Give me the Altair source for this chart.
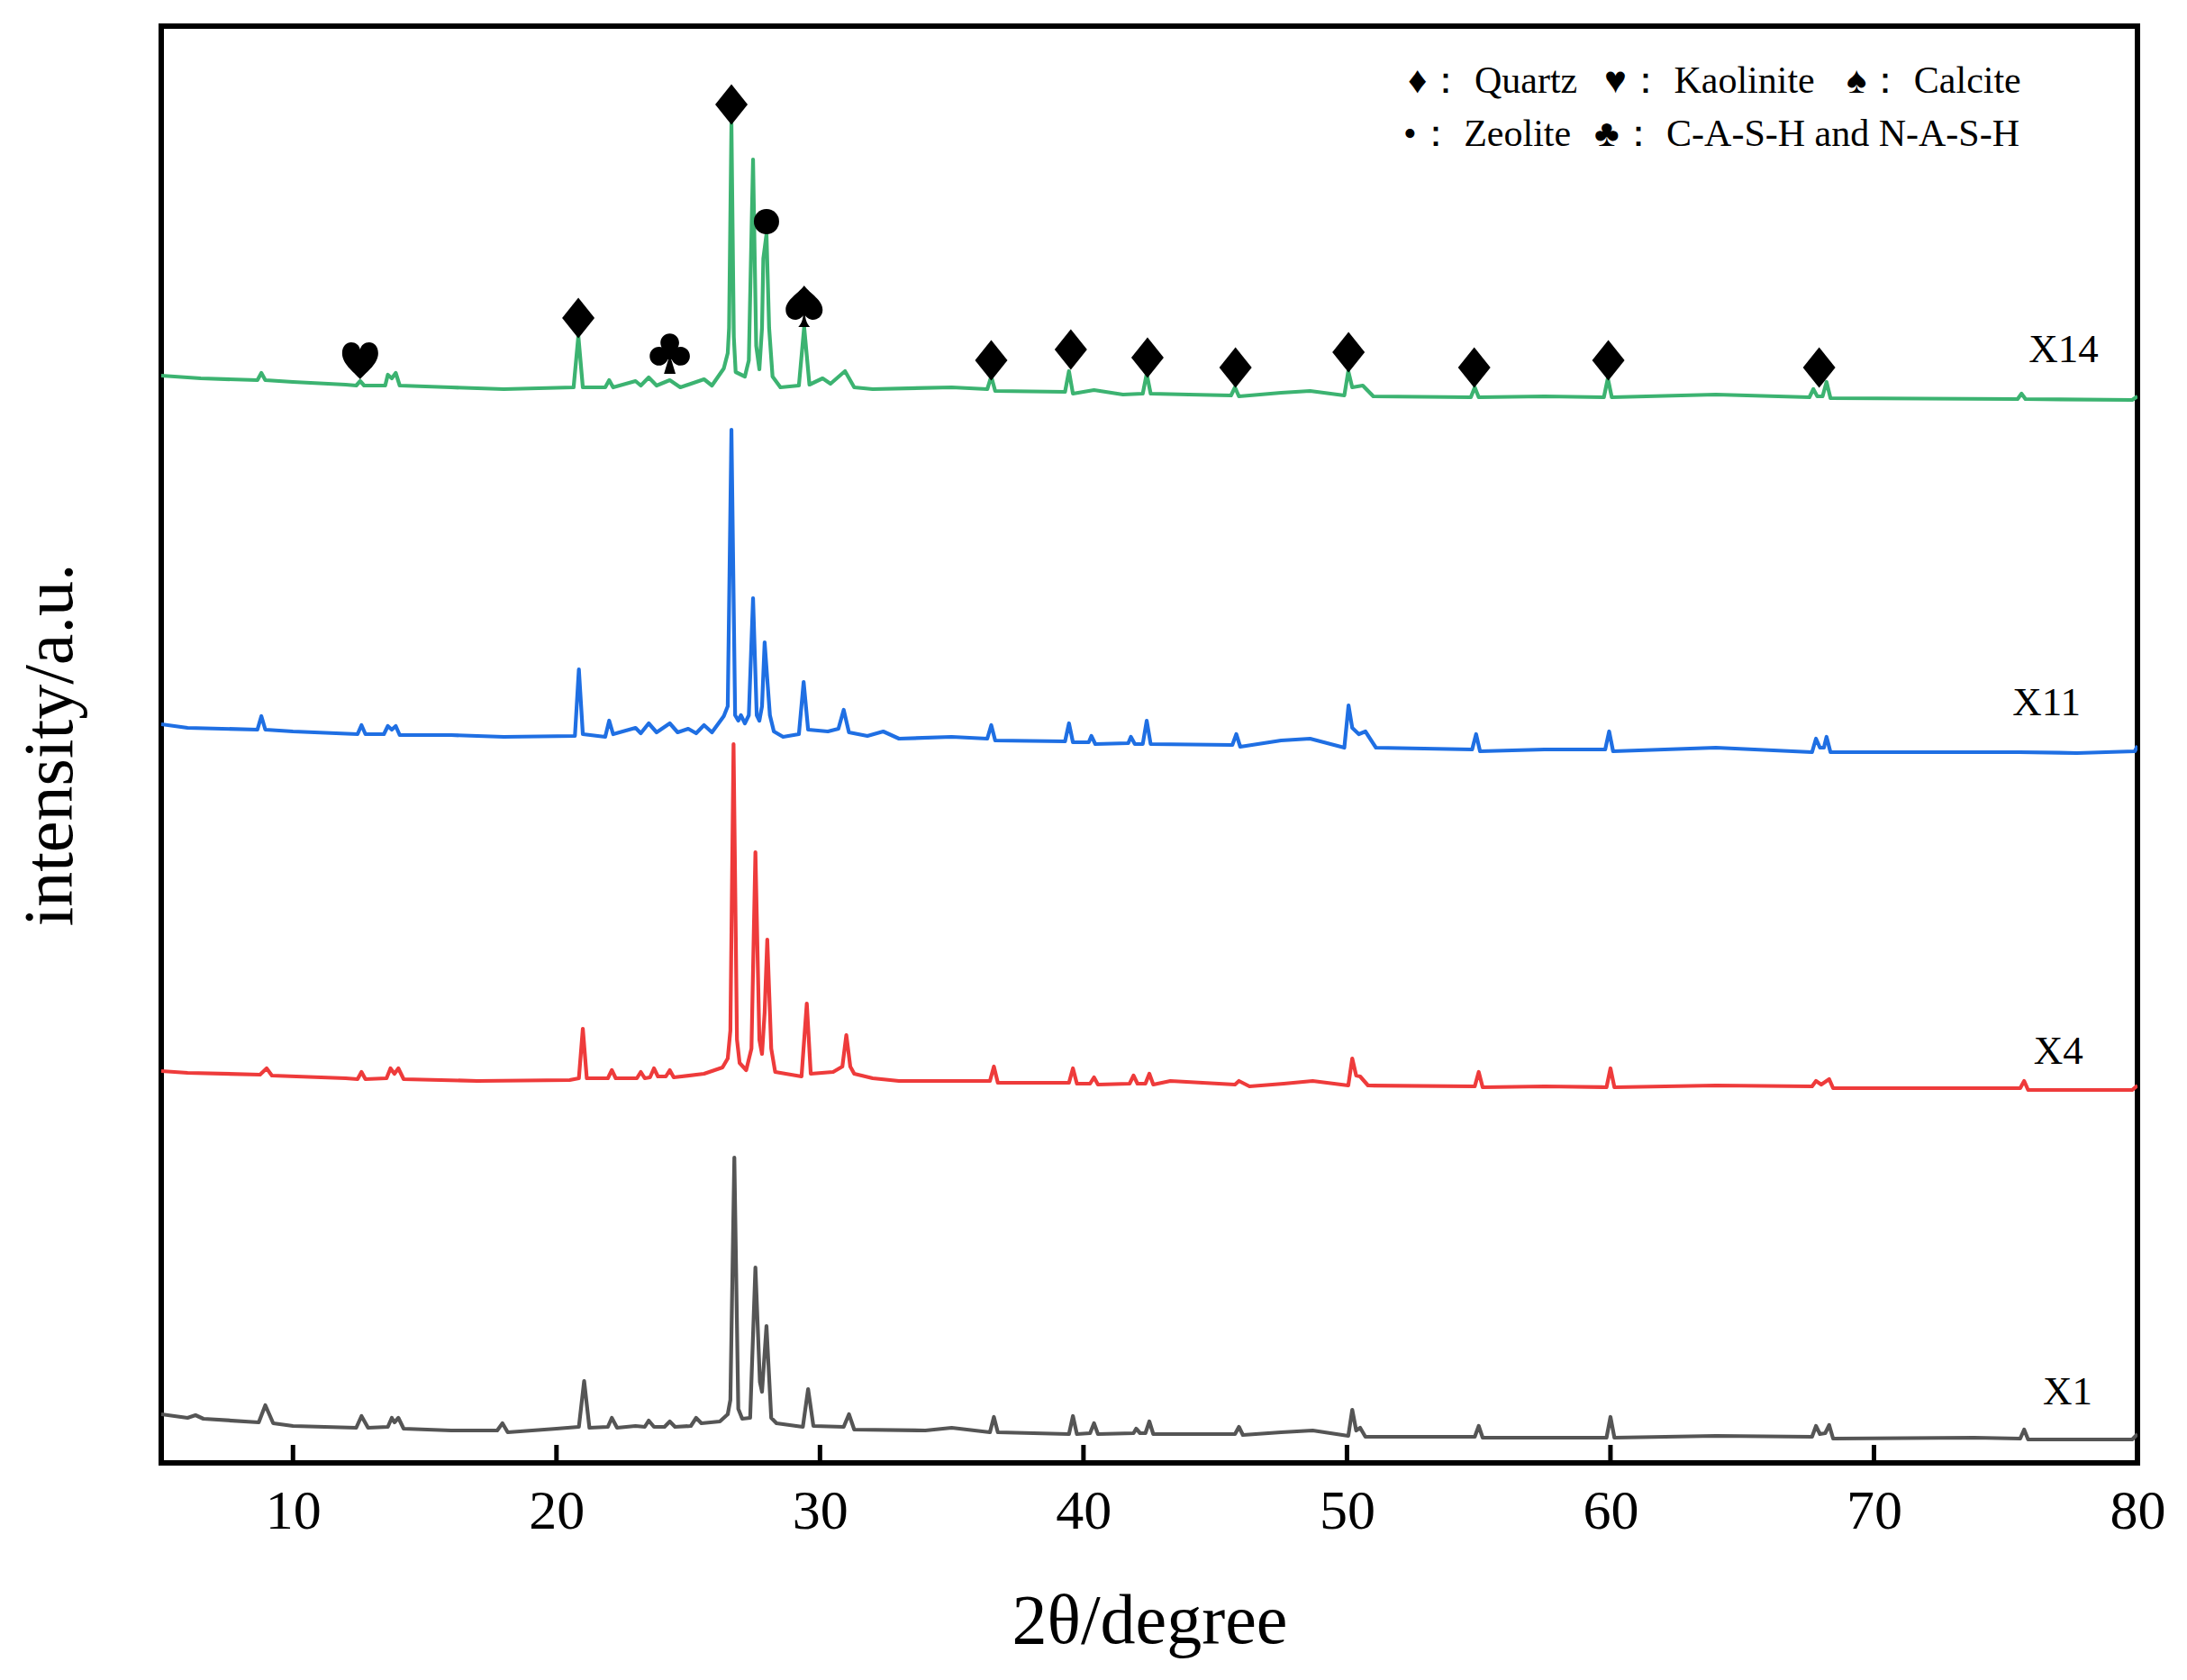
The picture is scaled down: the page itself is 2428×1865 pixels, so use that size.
import altair as alt
import pandas as pd

# ---------------- data ----------------
x1_2theta = [5.0, 6.0, 6.3, 6.6, 8.7, 8.95, 9.25, 10, 12.4, 12.6, 12.85, 13.6, 13.75, 13.85, 14.0, 14.2, 16, 17.75,
             17.95, 18.15, 20, 20.85, 21.05, 21.25, 21.95, 22.1, 22.3, 23.0, 23.35, 23.5, 23.7, 24.1, 24.3, 24.5,
             25.1, 25.3, 25.5, 26.2, 26.5, 26.6, 26.75, 26.9, 27.05, 27.35, 27.55, 27.72, 27.8, 27.97, 28.15, 28.35,
             29.35, 29.55, 29.75, 30.9, 31.1, 31.3, 34, 35, 36.45, 36.6, 36.75, 39.45, 39.6, 39.75, 40.25, 40.4,
             40.55, 41.9, 42.0, 42.15, 42.35, 42.5, 42.65, 45.75, 45.9, 46.05, 47.5, 48.7, 50.05, 50.2, 50.35, 50.5,
             50.7, 54.85, 55.0, 55.15, 59.85, 60.0, 60.15, 64, 67.65, 67.8, 67.95, 68.15, 68.3, 68.45, 73.8, 75.55,
             75.7, 75.85, 79.8, 80]
x1_int = [54, 50, 53, 49, 45, 64, 44, 41, 39, 52, 39, 40, 50, 45, 50, 38, 36, 36,
          44, 34, 38, 40, 91, 39, 40, 50, 39, 41, 40, 47, 40, 40, 46, 40,
          41, 50, 44, 46, 54, 70, 339, 60, 49, 50, 217, 90, 79, 152, 50, 44,
          40, 82, 41, 40, 54, 37, 36, 39, 34, 51, 34, 32, 52, 32, 33, 44,
          32, 33, 38, 33, 33, 46, 32, 32, 40, 31, 34, 36, 30, 59, 36, 39,
          29, 29, 41, 28, 28, 51, 28, 30, 29, 41, 32, 33, 42, 27, 28, 27,
          37, 26, 26, 32]

x4_2theta = [5.0, 6.0, 8.75, 9.0, 9.2, 12.0, 12.45, 12.6, 12.75, 13.55, 13.7, 13.85, 14.0, 14.2, 17, 20.5, 20.85,
             21.0, 21.15, 21.95, 22.1, 22.25, 23.05, 23.2, 23.35, 23.55, 23.7, 23.85, 24.15, 24.3, 24.45, 25.6,
             26.3, 26.5, 26.6, 26.72, 26.85, 26.95, 27.2, 27.4, 27.55, 27.7, 27.8, 27.9, 28.0, 28.15, 28.3, 29.3,
             29.5, 29.65, 30.5, 30.85, 31.0, 31.15, 31.3, 32, 33, 36.45, 36.6, 36.75, 39.45, 39.6, 39.75, 40.25,
             40.4, 40.55, 41.75, 41.9, 42.05, 42.35, 42.5, 42.65, 43.3, 45.75, 45.9, 46.3, 47.6, 48.7, 50.05, 50.2,
             50.35, 50.5, 50.8, 54.85, 55.0, 55.15, 57.5, 59.85, 60.0, 60.15, 64, 67.65, 67.8, 68.0, 68.3, 68.45,
             75.55, 75.7, 75.85, 79.8, 80]
x4_int = [435, 433, 431, 438, 430, 427, 426, 434, 426, 427, 438, 432, 438, 426, 424, 425, 427,
          482, 427, 427, 436, 427, 427, 434, 427, 428, 438, 429, 429, 436, 428, 432,
          439, 449, 480, 798, 470, 444, 436, 460, 678, 470, 454, 500, 581, 460, 434, 429,
          510, 432, 434, 440, 475, 440, 432, 427, 424, 424, 440, 422, 422, 438, 421, 421,
          428, 420, 421, 430, 421, 421, 432, 420, 424, 420, 424, 418, 421, 424, 419, 449,
          430, 429, 419, 418, 434, 417, 418, 417, 438, 417, 419, 418, 424, 420, 426, 416,
          416, 424, 414, 414, 419]

x11_2theta = [5.0, 6.0, 8.65, 8.8, 8.95, 10, 12.45, 12.6, 12.75, 13.45, 13.6, 13.75, 13.9, 14.05, 16, 18, 20.7,
              20.85, 21.0, 21.85, 22.0, 22.15, 23.0, 23.2, 23.5, 23.8, 24.3, 24.6, 25.0, 25.3, 25.6, 25.9, 26.35,
              26.5, 26.64, 26.78, 26.9, 27.0, 27.15, 27.3, 27.46, 27.6, 27.7, 27.8, 27.9, 28.0, 28.1, 28.25, 28.6,
              29.2, 29.38, 29.55, 30.3, 30.7, 30.9, 31.1, 31.8, 32.4, 33, 35, 36.35, 36.5, 36.65, 39.3, 39.45,
              39.6, 40.2, 40.3, 40.45, 41.7, 41.8, 41.95, 42.25, 42.4, 42.55, 45.65, 45.8, 45.95, 47.5, 48.6, 49.9,
              50.06, 50.2, 50.45, 50.7, 51.1, 54.75, 54.9, 55.05, 57.5, 59.8, 59.95, 60.1, 64, 67.65, 67.8, 67.95,
              68.1, 68.2, 68.35, 75.5, 77.7, 79.9, 80]
x11_int = [820, 816, 814, 829, 814, 812, 809, 819, 809, 809, 818, 814, 818, 808, 808, 806, 807,
           881, 809, 806, 824, 809, 816, 810, 821, 811, 821, 811, 815, 810, 819, 811, 829,
           840, 1147, 830, 824, 830, 821, 830, 960, 830, 824, 840, 911, 870, 830, 812, 806,
           809, 867, 814, 812, 815, 836, 811, 807, 812, 804, 806, 804, 819, 802, 801, 821,
           800, 800, 807, 798, 799, 806, 798, 798, 824, 798, 797, 809, 795, 802, 804, 794,
           841, 816, 809, 812, 794, 792, 809, 790, 792, 792, 812, 790, 794, 789, 804, 794,
           794, 806, 789, 789, 788, 790, 796]

x14_2theta = [5.0, 6.5, 8.65, 8.8, 8.95, 10, 12.0, 12.4, 12.55, 12.7, 13.5, 13.6, 13.75, 13.9, 14.05, 16, 18, 20.65,
              20.83, 21.0, 21.85, 22.0, 22.15, 23.0, 23.2, 23.5, 23.8, 24.3, 24.7, 25.6, 25.9, 26.35, 26.5, 26.55,
              26.64, 26.73, 26.8, 27.15, 27.3, 27.46, 27.58, 27.7, 27.8, 27.85, 27.97, 28.07, 28.2, 28.5, 29.2,
              29.4, 29.6, 30.1, 30.4, 30.95, 31.3, 32, 35, 36.35, 36.5, 36.65, 39.3, 39.45, 39.6, 40.4, 41.5,
              42.25, 42.4, 42.55, 44, 45.6, 45.75, 45.9, 47.5, 48.6, 49.9, 50.05, 50.2, 50.6, 51, 54.7, 54.85,
              55.0, 57.5, 59.75, 59.9, 60.05, 64, 67.55, 67.7, 67.85, 68.05, 68.2, 68.35, 75.45, 75.6, 75.75,
              79.8, 80]
x14_int = [1207, 1204, 1202, 1210, 1202, 1200, 1197, 1196, 1201, 1196, 1196, 1208, 1204, 1210, 1196, 1194, 1192, 1194,
           1251, 1194, 1194, 1202, 1194, 1201, 1196, 1205, 1196, 1202, 1194, 1203, 1196, 1215, 1232, 1260,
           1487, 1250, 1211, 1206, 1224, 1447, 1240, 1214, 1260, 1337, 1364, 1260, 1206, 1194, 1196,
           1261, 1197, 1204, 1198, 1212, 1194, 1192, 1194, 1192, 1206, 1190, 1189, 1212, 1187, 1191, 1186,
           1187, 1209, 1187, 1186, 1185, 1194, 1184, 1188, 1190, 1185, 1212, 1194, 1196, 1184, 1183, 1194,
           1183, 1184, 1183, 1204, 1183, 1186, 1183, 1192, 1184, 1184, 1200, 1182, 1181, 1187, 1181,
           1180, 1184]

sample_names = ["X1", "X4", "X11", "X14"]
sample_colors = ["#555555", "#EE3B3B", "#1F6FE3", "#3CB371"]

series_labels = ["X14", "X11", "X4", "X1"]
series_label_x = [77.2, 76.55, 77.0, 77.35]
series_label_y = [1222, 830, 443, 65]

marker_kind = ["heart", "diamond", "club", "diamond", "circle", "spade", "diamond", "diamond", "diamond",
               "diamond", "diamond", "diamond", "diamond", "diamond"]
marker_x = [12.55, 20.83, 24.3, 26.64, 27.97, 29.4, 36.5, 39.52, 42.43, 45.77, 50.06, 54.83, 59.92, 67.92]
marker_y = [1224, 1271, 1232, 1508, 1378, 1284, 1224, 1236, 1227, 1216, 1233, 1216, 1224, 1216]

legend_symbols = ["♦", "♥", "♠", "•", "♣"]
legend_names = ["Quartz", "Kaolinite", "Calcite", "Zeolite", "C-A-S-H and N-A-S-H"]

tick_values = [10, 20, 30, 40, 50, 60, 70, 80]

# ---------------- tables ----------------
frames = []
for name, xs, ys in [("X1", x1_2theta, x1_int), ("X4", x4_2theta, x4_int),
                     ("X11", x11_2theta, x11_int), ("X14", x14_2theta, x14_int)]:
    frames.append(pd.DataFrame({"sample": name, "two_theta": xs, "intensity": ys}))
curves = pd.concat(frames, ignore_index=True)

markers = pd.DataFrame({"kind": marker_kind, "two_theta": marker_x, "intensity": marker_y})
labels = pd.DataFrame({"label": series_labels, "two_theta": series_label_x, "intensity": series_label_y})

SERIF = "Liberation Serif"
W, H = 2194, 1595

xscale = alt.Scale(domain=[5, 80], nice=False, zero=False)
yscale = alt.Scale(domain=[0, 1595], nice=False, zero=False)

lines = alt.Chart(curves).mark_line(strokeWidth=4.2, clip=True, strokeJoin="round").encode(
    x=alt.X("two_theta:Q", scale=xscale,
            axis=alt.Axis(values=tick_values, format="d", ticks=False, tickSize=0, domain=False, grid=False,
                          labelFont=SERIF, labelFontSize=62, labelColor="black", labelBaseline="alphabetic",
                          labelPadding=72, labelFlush=False, labelOverlap=False,
                          title="2θ/degree", titleFont=SERIF, titleFontSize=78, titleFontWeight="normal",
                          titleColor="black", titleBaseline="alphabetic", titleY=199, titleX=W / 2)),
    y=alt.Y("intensity:Q", scale=yscale,
            axis=alt.Axis(labels=False, ticks=False, domain=False, grid=False,
                          title="intensity/a.u.", titleFont=SERIF, titleFontSize=78, titleFontWeight="normal",
                          titleColor="black", titleAngle=270, titleBaseline="alphabetic", titleAlign="center",
                          titleX=-100, titleY=H / 2)),
    color=alt.Color("sample:N", scale=alt.Scale(domain=sample_names, range=sample_colors), legend=None),
    detail="sample:N",
)

# inward tick marks on the bottom edge
tick_marks = alt.Chart(pd.DataFrame({"tv": tick_values})).mark_rule(color="black", strokeWidth=5).encode(
    x=alt.X("tv:Q", scale=xscale), y=alt.value(H - 20), y2=alt.value(H))

SHAPES = {
    "diamond": ("M0,-1.25L1,0L0,1.25L-1,0Z", 1296),
    "circle": ("circle", 784),
    "heart": ("M0,1.05 C-0.4,0.6 -1,0.2 -1,-0.4 C-1,-0.8 -0.75,-1 -0.5,-1 C-0.25,-1 -0.05,-0.85 0,-0.6 "
              "C0.05,-0.85 0.25,-1 0.5,-1 C0.75,-1 1,-0.8 1,-0.4 C1,0.2 0.4,0.6 0,1.05 Z", 1600),
    "spade": ("M0,-1.12 C0.35,-0.65 1,-0.35 1,0.2 C1,0.6 0.65,0.78 0.38,0.72 C0.22,0.68 0.1,0.58 0.06,0.5 "
              "C0.08,0.8 0.2,1.0 0.32,1.12 L-0.32,1.12 C-0.2,1.0 -0.08,0.8 -0.06,0.5 C-0.1,0.58 -0.22,0.68 "
              "-0.38,0.72 C-0.65,0.78 -1,0.6 -1,0.2 C-1,-0.35 -0.35,-0.65 0,-1.12 Z", 1681),
    "club": ("M-0.45,-0.5 A0.45,0.45 0 1,1 0.45,-0.5 A0.45,0.45 0 1,1 -0.45,-0.5 Z "
             "M-0.97,0.15 A0.45,0.45 0 1,1 -0.07,0.15 A0.45,0.45 0 1,1 -0.97,0.15 Z "
             "M0.07,0.15 A0.45,0.45 0 1,1 0.97,0.15 A0.45,0.45 0 1,1 0.07,0.15 Z "
             "M-0.3,-0.2 L0.3,-0.2 L0.3,0.3 L-0.3,0.3 Z "
             "M-0.07,0.3 L0.07,0.3 L0.28,1 L-0.28,1 Z", 2116),
}

marker_layers = []
for kind, (path, size) in SHAPES.items():
    marker_layers.append(
        alt.Chart(markers).transform_filter(alt.datum.kind == kind)
        .mark_point(shape=path, size=size, filled=True, color="black", opacity=1, strokeWidth=0)
        .encode(x=alt.X("two_theta:Q", scale=xscale), y=alt.Y("intensity:Q", scale=yscale))
    )

label_layer = alt.Chart(labels).mark_text(font=SERIF, fontSize=45, color="black", align="center",
                                          baseline="alphabetic").encode(
    x=alt.X("two_theta:Q", scale=xscale), y=alt.Y("intensity:Q", scale=yscale), text="label:N")

legend_pos = [(1384, 74), (1602, 74), (1871, 74), (1379, 133), (1591, 133)]
legend_layers = []
for sym, name, (px, py) in zip(legend_symbols, legend_names, legend_pos):
    legend_layers.append(
        alt.Chart(pd.DataFrame({"t": [sym + "： " + name]})).mark_text(
            font=SERIF, fontSize=42, color="black", align="left", baseline="alphabetic"
        ).encode(x=alt.value(px), y=alt.value(py), text="t:N")
    )

chart = alt.layer(lines, tick_marks, *marker_layers, label_layer, *legend_layers).properties(
    width=W, height=H,
    padding={"left": 171, "top": 21, "right": 40, "bottom": 220},
    autosize=alt.AutoSizeParams(type="none"),
    background="white",
).configure_view(stroke="black", strokeWidth=6)

chart.save("out.html", embed_options={"renderer": "svg", "actions": False})
